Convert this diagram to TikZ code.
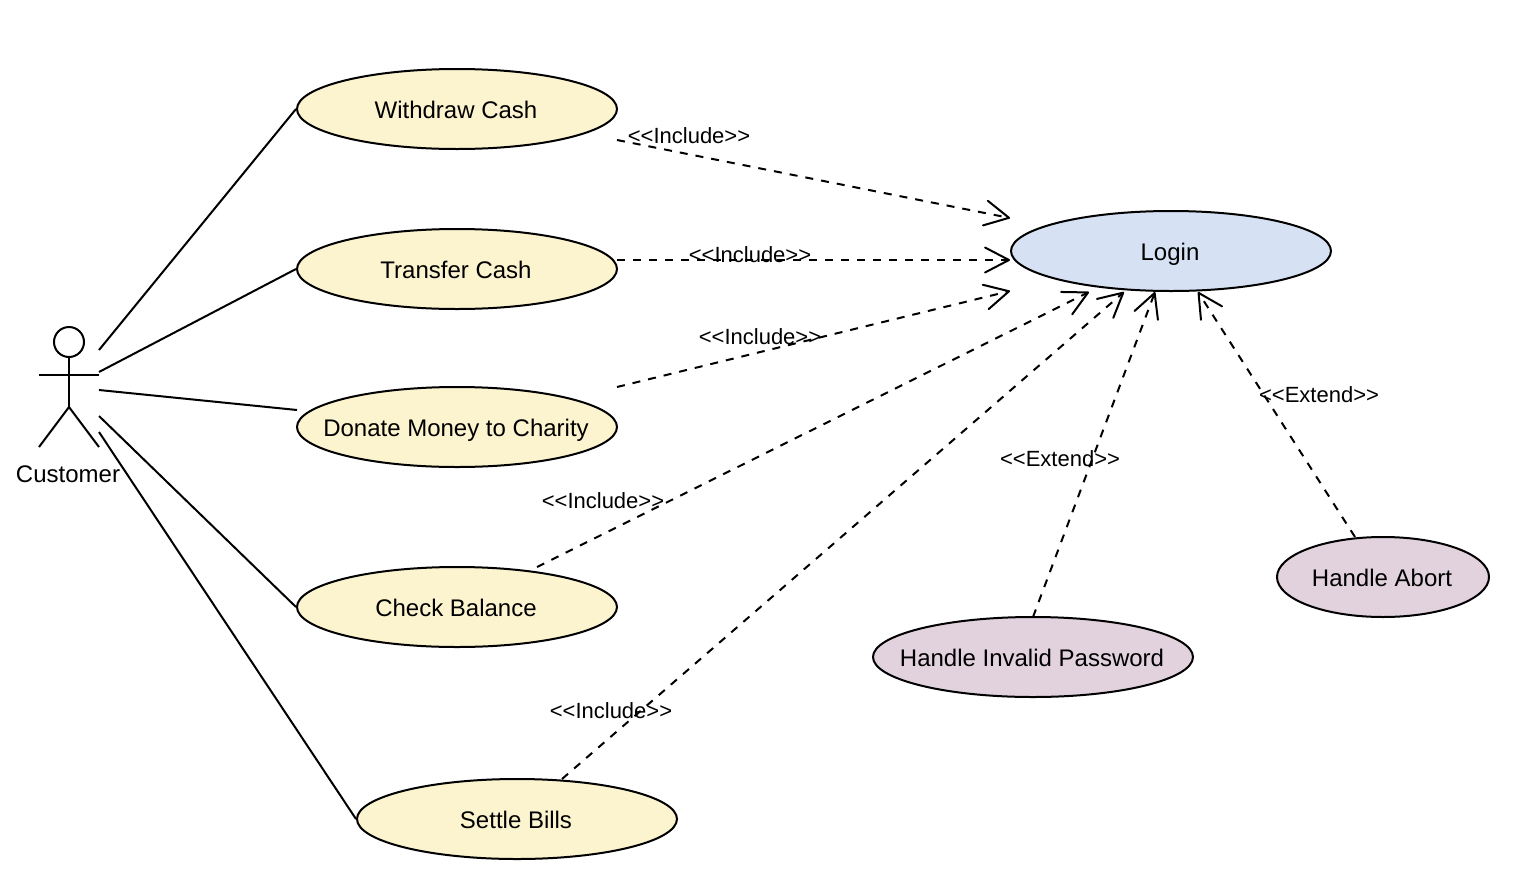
\documentclass[tikz,border=0pt]{standalone}
\usepackage{fontspec}
\setmainfont{Liberation Sans}
\usetikzlibrary{arrows.meta,shapes.geometric}
\definecolor{usey}{HTML}{FCF3CF}
\definecolor{useb}{HTML}{D6E2F3}
\definecolor{usep}{HTML}{E1D2DD}
\newcommand{\uctext}[1]{\makebox[0pt]{\hspace{-2pt}\raisebox{-9.6pt}[0pt][0pt]{#1}}}
\tikzset{
  usecase/.style={ellipse,draw=black,line width=2pt,inner sep=0pt,minimum width=320pt,minimum height=80pt,font=\fontsize{24}{28}\selectfont},
  assoc/.style={line width=2pt},
  dep/.style={line width=2pt,dash pattern=on 8pt off 8pt,-{Straight Barb[length=24pt,width=25pt,line width=2pt,round]}},
  lbl/.style={inner sep=0pt,font=\fontsize{22}{26}\selectfont},
  limb/.style={line width=2pt}
}
\begin{document}
\begin{tikzpicture}[x=1pt,y=-1pt]
\useasboundingbox (0,0) rectangle (1540,884);
% use cases
\node[usecase,fill=usey] (withdraw) at (457,109) {\uctext{Withdraw Cash}};
\node[usecase,fill=usey] (transfer) at (457,269) {\uctext{Transfer Cash}};
\node[usecase,fill=usey] (donate) at (457,427) {\uctext{Donate Money to Charity}};
\node[usecase,fill=usey] (check) at (457,607) {\uctext{Check Balance}};
\node[usecase,fill=usey] (settle) at (517,819) {\uctext{Settle Bills}};
\node[usecase,fill=useb] (login) at (1171,251) {\uctext{Login}};
\node[usecase,fill=usep] (invalid) at (1033,657) {\uctext{Handle Invalid Password}};
\node[usecase,fill=usep,minimum width=212pt] (abort) at (1383,577) {\uctext{Handle Abort}};
% actor
\node[circle,draw=black,line width=2pt,minimum size=30pt,inner sep=0pt] (head) at (69,342) {};
\coordinate (hip) at (69,407);
\coordinate (armL) at (39,375);
\coordinate (armR) at (99,375);
\coordinate (footL) at (39,447);
\coordinate (footR) at (99,447);
\draw[limb] (head.south) -- (hip);
\draw[limb] (armL) -- (armR);
\draw[limb] (footL) -- (hip) -- (footR);
\node[inner sep=0pt,font=\fontsize{24}{28}\selectfont] (customer) at (68,474) {Customer};
% associations
\coordinate (c1) at (99,350);
\coordinate (c2) at (99,372);
\coordinate (c3) at (99,390);
\coordinate (c4) at (99,416);
\coordinate (c5) at (99,432);
\coordinate (donateIn) at (297,410);
\draw[assoc] (c1) -- (withdraw.west);
\draw[assoc] (c2) -- (transfer.west);
\draw[assoc] (c3) -- (donateIn);
\draw[assoc] (c4) -- (check.west);
\draw[assoc] (c5) -- (settle.west);
% dependency end points
\coordinate (s1) at (617,140);
\coordinate (t1) at (1010,218);
\coordinate (s2) at (617,260);
\coordinate (t2) at (1010,260);
\coordinate (s3) at (617,387);
\coordinate (t3) at (1010,291);
\coordinate (s4) at (537,567);
\coordinate (t4) at (1089,292);
\coordinate (s5) at (562,779);
\coordinate (t5) at (1124,292);
\coordinate (s6) at (1033,617);
\coordinate (t6) at (1155,292);
\coordinate (s7) at (1355,537);
\coordinate (t7) at (1198,292);
\draw[dep] (s1) -- (t1);
\draw[dep] (s2) -- (t2);
\draw[dep] (s3) -- (t3);
\draw[dep] (s4) -- (t4);
\draw[dep] (s5) -- (t5);
\draw[dep] (s6) -- (t6);
\draw[dep] (s7) -- (t7);
% labels
\node[lbl] (l1) at (689,136) {<{}<Include>{}>};
\node[lbl] (l2) at (750,255) {<{}<Include>{}>};
\node[lbl] (l3) at (760,337) {<{}<Include>{}>};
\node[lbl] (l4) at (603,501) {<{}<Include>{}>};
\node[lbl] (l5) at (611,711) {<{}<Include>{}>};
\node[lbl] (l6) at (1060,459) {<{}<Extend>{}>};
\node[lbl] (l7) at (1319,395) {<{}<Extend>{}>};
\end{tikzpicture}
\end{document}
